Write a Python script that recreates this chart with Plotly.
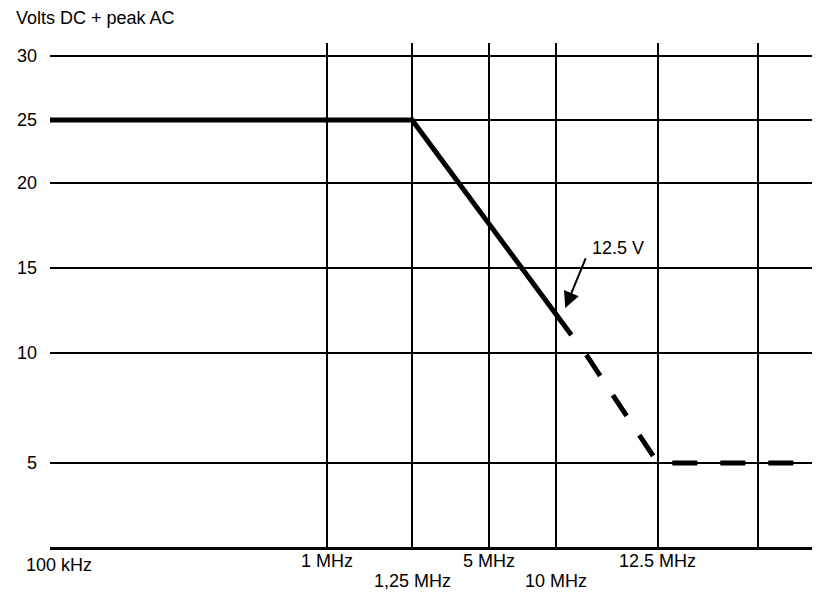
import numpy as np
import plotly.graph_objects as go

# ---- Schematic (not-to-scale) axes: tick values and labels ----
freq_ticks_mhz = [0.1, 1, 1.25, 5, 10, 12.5, 20, 25]
freq_labels = ["100 kHz", "1 MHz", "1,25 MHz", "5 MHz", "10 MHz", "12.5 MHz", "", ""]
freq_label_row = [0, 1, 2, 1, 2, 1, 0, 0]   # 0 = none/edge, 1 = upper row, 2 = lower row

volt_ticks = [5, 10, 15, 20, 25, 30]
volt_labels = ["5", "10", "15", "20", "25", "30"]

# ---- Curve data (MHz, volts) ----
solid_f = [0.1, 1.25, 10.37]
solid_v = [25, 25, 11.06]
dashed_f = [10.74, 12.5, 25]
dashed_v = [9.91, 5, 5]

arrow_f, arrow_v = 10.22, 12.65   # point marked "12.5 V"

# ---- layout positions of the schematic grid (kept separate from data) ----
freq_pos = [0, 278, 364, 441, 509, 611, 712, 766]
volt_pos = [84, 194, 279, 364, 427, 491]
X_MAX, Y_MAX = 766, 504


def fx(f):
    return np.interp(f, freq_ticks_mhz, freq_pos)


def vy(v):
    return np.interp(v, volt_ticks, volt_pos)


FONT = "Liberation Sans, Arial, Helvetica, sans-serif"
FS = 18

fig = go.Figure()
fig.add_trace(go.Scatter(x=fx(solid_f), y=vy(solid_v), mode="lines",
                         line=dict(color="black", width=5), hoverinfo="skip"))
fig.add_trace(go.Scatter(x=fx(dashed_f), y=vy(dashed_v), mode="lines",
                         line=dict(color="black", width=5, dash="25px,23px"),
                         hoverinfo="skip"))

annotations = []
for f, lab, row in zip(freq_ticks_mhz, freq_labels, freq_label_row):
    if not lab:
        continue
    if row == 0:
        annotations.append(dict(x=fx(f), xref="x", y=0, yref="paper", text=lab,
                                showarrow=False, xanchor="left", yanchor="middle",
                                xshift=-26, yshift=-18,
                                font=dict(size=FS, color="black", family=FONT)))
    else:
        annotations.append(dict(x=fx(f), xref="x", y=0, yref="paper", text=lab,
                                showarrow=False, xanchor="center", yanchor="middle",
                                yshift=-14 if row == 1 else -34,
                                font=dict(size=FS, color="black", family=FONT)))

annotations.append(dict(x=0, xref="paper", y=1, yref="paper",
                        text="Volts DC + peak AC", showarrow=False,
                        xanchor="left", yanchor="middle", xshift=-36, yshift=25,
                        font=dict(size=FS, color="black", family=FONT)))

annotations.append(dict(x=fx(arrow_f), y=vy(arrow_v), xref="x", yref="y", text="",
                        showarrow=True, ax=21, ay=-51, arrowhead=2, arrowsize=1.6,
                        arrowwidth=2, arrowcolor="black"))
annotations.append(dict(x=fx(arrow_f), y=vy(arrow_v), xref="x", yref="y",
                        text="12.5 V", showarrow=False, xshift=53, yshift=60,
                        font=dict(size=FS, color="black", family=FONT)))

# page body has an 8px default margin, so the figure is sized to fit the window
fig.update_layout(
    width=813, height=589,
    margin=dict(l=38, r=9, t=35, b=50),
    paper_bgcolor="white", plot_bgcolor="white",
    showlegend=False,
    font=dict(family=FONT, size=FS, color="black"),
    annotations=annotations,
    xaxis=dict(range=[0, X_MAX], tickmode="array", tickvals=freq_pos[1:7],
               showticklabels=False, ticks="", showgrid=True, gridcolor="black",
               gridwidth=1.8, zeroline=False, showline=True, linecolor="black",
               linewidth=2.5, fixedrange=True),
    yaxis=dict(range=[0, Y_MAX], tickmode="array", tickvals=volt_pos,
               ticktext=volt_labels, ticks="", ticklabelstandoff=12,
               tickfont=dict(size=FS, color="black", family=FONT),
               showgrid=True, gridcolor="black", gridwidth=1.8, zeroline=False,
               showline=False, fixedrange=True),
)

fig.write_html("out.html")
